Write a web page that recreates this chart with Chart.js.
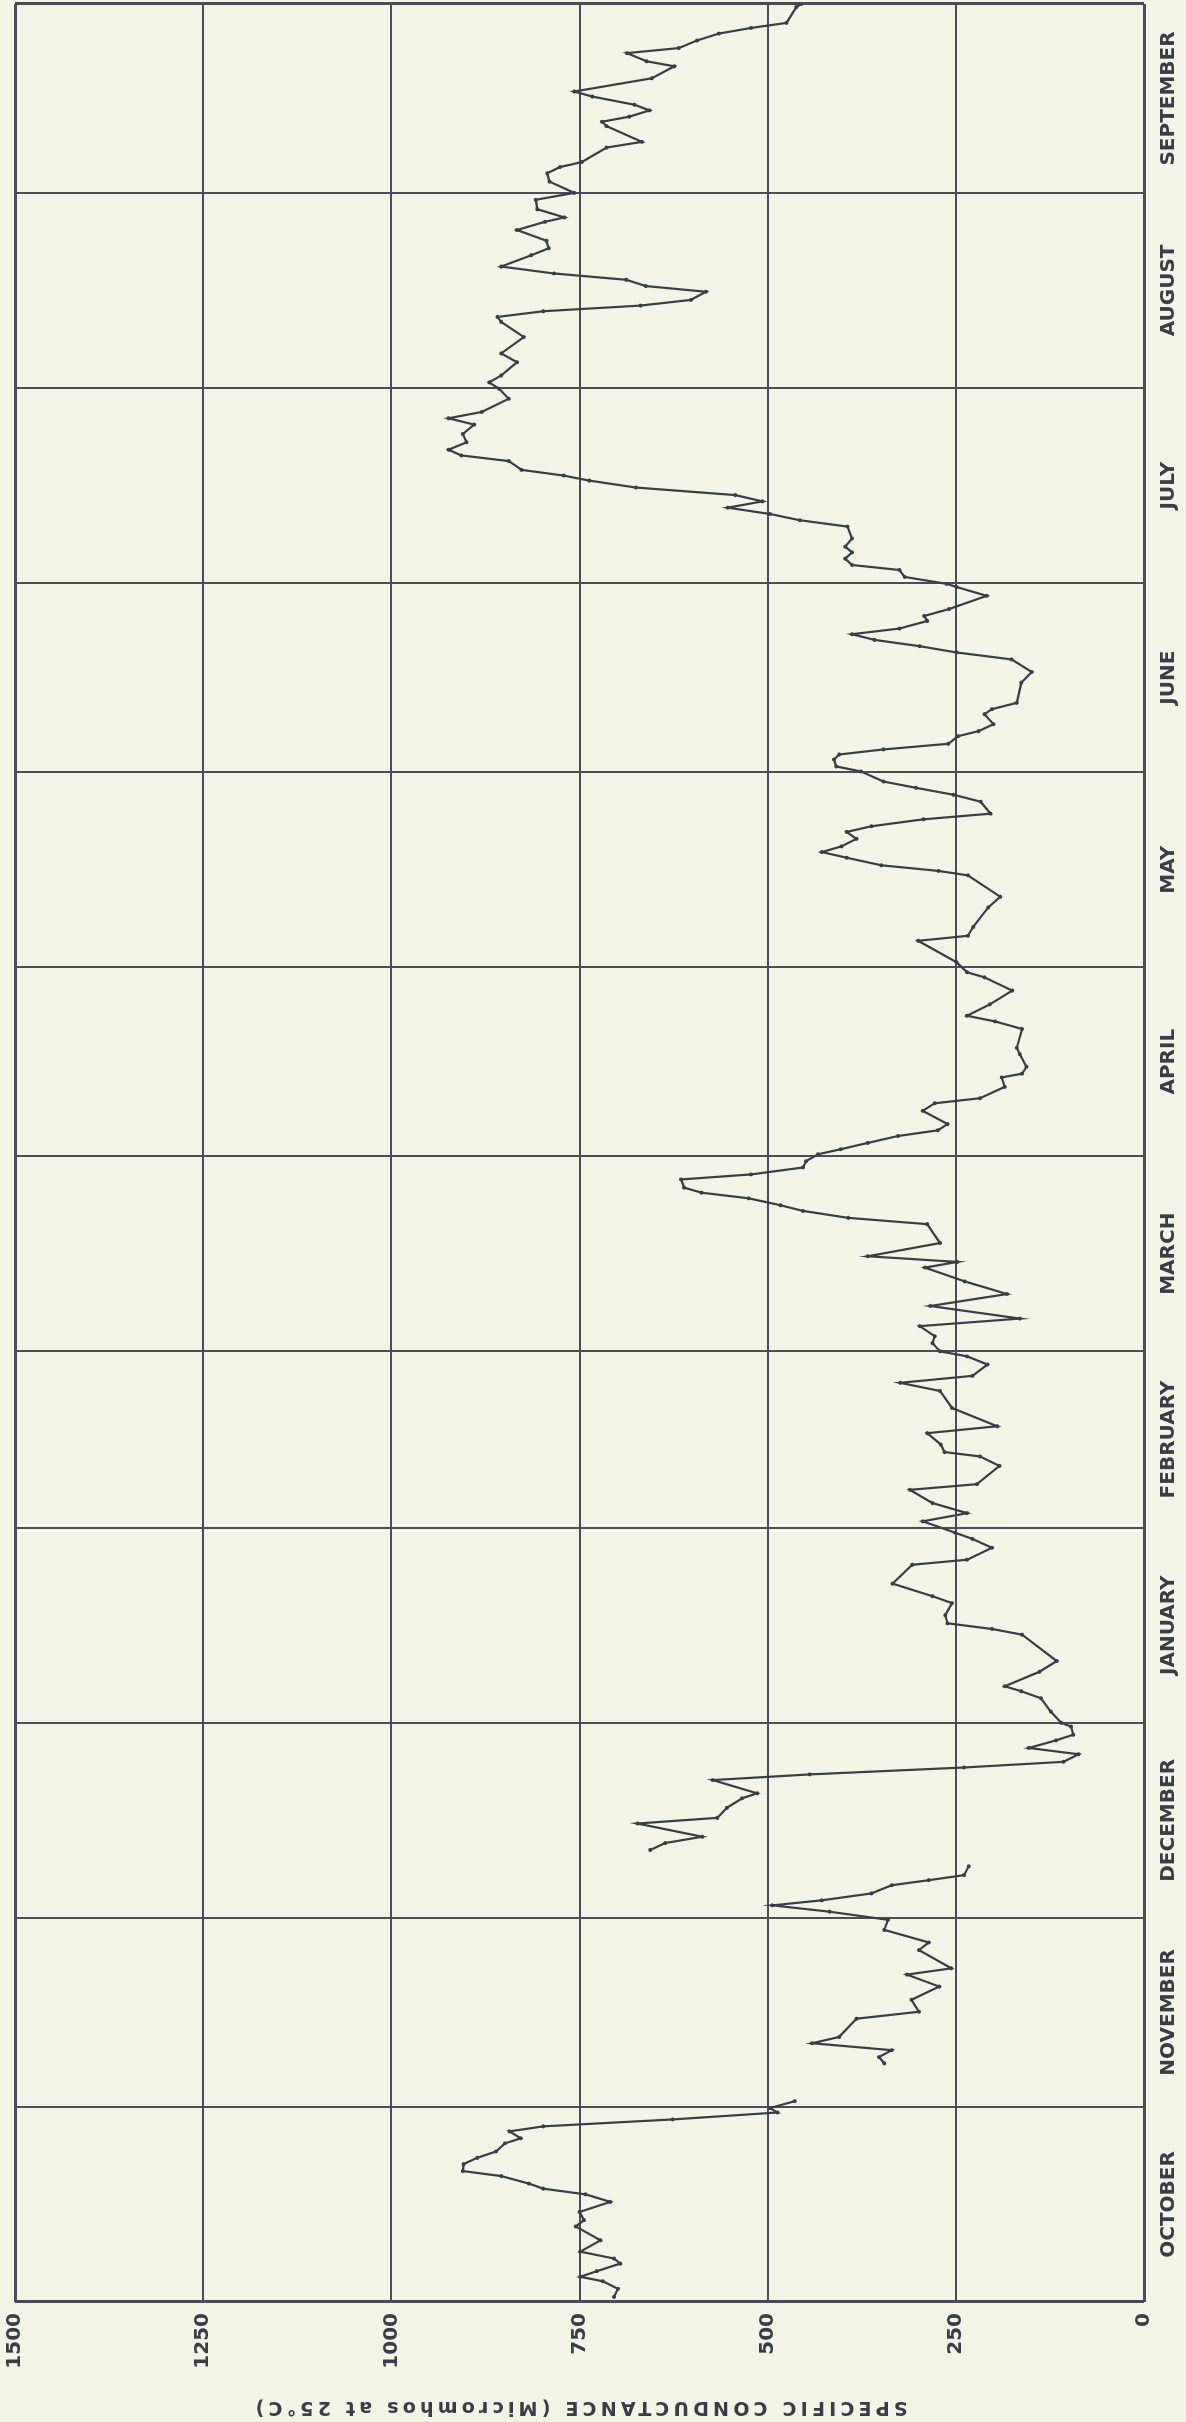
<!DOCTYPE html>
<html>
<head>
<meta charset="utf-8">
<script src="https://cdn.jsdelivr.net/npm/chart.js@4/dist/chart.umd.min.js"></script>
<style>
html, body { margin:0; padding:0; width:1186px; height:2422px; overflow:hidden; background:#f2f4e6; }
#wrap { position:absolute; left:0; top:0; width:2422px; height:1186px; transform-origin:0 0; transform:translate(0,2422px) rotate(-90deg); }
</style>
</head>
<body>
<div id="wrap"><canvas id="c" width="2422" height="1186"></canvas></div>
<script>
// Water-year day (0 = October 1) and specific conductance (micromhos at 25 °C); null = gap in record
const days = [
0.8,2.1,3.3,4.0,4.9,6.1,6.9,8.0,9.8,12.0,13.0,14.3,15.9,17.1,18.0,18.8,20.0,20.8,21.9,22.9,23.9,25.2,26.0,27.1,27.9,29.0,30.1,30.8,31.9,
34.0,
37.9,38.9,40.0,41.1,42.1,45.0,46.1,48.0,50.1,52.0,53.0,55.9,57.1,59.1,60.7,62.0,63.0,63.8,64.9,66.2,67.0,67.8,69.2,
70.5,
71.8,72.9,73.9,76.0,76.9,78.5,80.0,80.8,82.9,83.8,84.9,85.8,87.0,88.0,89.2,90.1,91.4,92.0,93.8,95.9,97.0,97.8,
100.1,101.8,106.0,106.9,107.8,109.1,111.0,112.1,114.1,117.1,117.9,119.8,121.2,122.2,124.0,125.3,126.9,129.0,129.9,132.8,134.3,135.0,136.2,
138.0,139.1,142.0,144.7,146.0,147.1,148.9,150.2,151.0,152.3,153.4,155.0,156.2,158.2,160.1,162.1,164.3,165.2,166.1,168.2,171.2,172.2,173.3,174.2,
175.3,176.2,177.0,178.3,179.1,180.2,181.2,182.3,183.1,184.1,185.2,186.1,187.1,189.2,190.4,191.2,193.0,194.5,195.1,196.2,198.2,199.2,202.2,203.4,
204.3,206.1,208.3,210.4,211.2,212.8,216.2,217.0,218.4,221.5,223.2,226.6,227.3,228.2,229.4,230.3,231.2,232.4,233.5,234.4,235.5,236.4,238.3,239.4,
240.5,241.5,243.1,243.9,245.0,245.8,246.6,247.5,248.7,249.5,250.6,252.2,253.0,254.0,257.2,258.9,260.9,262.0,263.0,264.0,264.9,265.8,267.0,267.8,
268.9,271.0,272.4,272.9,274.0,275.1,275.9,276.9,277.9,278.8,280.1,282.0,283.0,284.0,285.0,286.0,287.0,288.2,289.3,290.1,291.0,292.4,293.3,294.2,
295.4,296.7,298.2,299.2,300.2,302.3,303.9,304.9,306.0,308.1,309.5,312.1,314.5,315.3,316.2,317.1,318.0,319.3,320.2,321.2,322.2,323.3,325.1,326.2,
327.4,329.1,330.4,331.1,332.4,333.9,335.0,336.8,338.1,339.1,339.9,342.2,343.1,345.6,346.3,347.1,348.1,349.0,350.3,351.1,353.2,355.1,355.9,357.2,
358.0,359.2,360.3,361.2,362.0,364.5,365.0
];
const conductance = [
704,699,719,749,727,696,704,749,722,755,744,750,709,742,798,817,854,905,904,886,861,849,828,843,798,626,487,497,464,
null,
345,352,335,441,405,382,299,309,272,315,256,299,286,345,340,418,494,428,362,335,286,239,233,
null,
656,636,587,673,567,554,534,514,573,444,239,107,87,153,117,94,97,110,124,137,163,185,
139,116,162,202,261,264,255,281,334,308,235,202,228,251,294,235,281,311,222,192,218,265,270,
288,195,255,271,324,228,208,235,271,281,278,298,165,284,182,238,291,248,367,271,288,393,453,483,
525,588,611,615,522,453,449,433,403,367,327,274,261,294,278,218,185,189,162,156,165,169,162,198,
235,205,175,212,235,249,300,234,227,207,191,234,273,349,395,428,402,382,395,362,293,204,217,253,
303,346,376,409,412,405,346,260,247,220,200,212,202,169,163,149,176,249,298,358,388,325,288,292,
259,209,249,262,318,325,388,397,388,397,388,394,457,497,553,507,543,675,737,771,827,844,907,924,
900,905,890,924,880,844,857,870,854,833,854,824,854,859,798,669,602,582,662,688,784,854,814,791,
794,833,796,770,806,808,757,790,793,776,747,714,667,714,720,684,657,677,733,757,654,624,661,687,
618,594,565,522,475,462,455
];
const monthStarts = [0,31,61,92,123,151,182,212,243,273,304,335,365];
const monthLabels = ['OCTOBER','NOVEMBER','DECEMBER','JANUARY','FEBRUARY','MARCH','APRIL','MAY','JUNE','JULY','AUGUST','SEPTEMBER'];
const valueTicks = [0,250,500,750,1000,1250,1500];
const valueTickLabels = ['0','250','500','750','1000','1250','1500'];
const axisTitle = 'SPECIFIC CONDUCTANCE (Micromhos at 25\u00B0C)';

const INK = '#3a3d47';
const GRID = '#4a4d57';
const PAPER = '#f2f4e6';
const monthMids = monthStarts.slice(0,-1).map((d,i)=>(d+monthStarts[i+1])/2);

const points = days.map((d,i)=>({x:d, y:conductance[i]}));

const paperPlugin = {
  id:'paper',
  afterLayout(chart){
    const y = chart.scales.y;
    if (y && !y._spacedTitle) {
      const orig = y.drawTitle;
      y.drawTitle = function(){
        const c = this.ctx, prev = c.letterSpacing;
        c.letterSpacing = '4.2px';
        orig.call(this);
        c.letterSpacing = prev || '0px';
      };
      y._spacedTitle = true;
    }
  },
  beforeDraw(chart){
    const c = chart.ctx;
    c.save();
    c.fillStyle = PAPER;
    c.fillRect(0,0,chart.width,chart.height);
    c.restore();
  }
};

const noPad = s => { s.paddingTop = 0; s.paddingBottom = 0; s.paddingLeft = 0; s.paddingRight = 0; };

new Chart(document.getElementById('c'), {
  type:'line',
  data:{ datasets:[{
    data:points, xAxisID:'x', yAxisID:'y',
    borderColor:INK, borderWidth:2.2, tension:0, spanGaps:false,
    pointRadius:2, pointBackgroundColor:INK, pointBorderWidth:0
  }]},
  options:{
    responsive:false, animation:false, devicePixelRatio:1,
    layout:{ padding:{ top:15, right:4, left:0, bottom:0 } },
    plugins:{ legend:{display:false}, tooltip:{enabled:false} },
    scales:{
      x:{
        type:'linear', min:0, max:365, position:'bottom',
        afterBuildTicks:s=>{ s.ticks = monthStarts.map(v=>({value:v})); },
        ticks:{ display:false },
        grid:{ color:GRID, lineWidth:c=> (c.index===0||c.index===monthStarts.length-1)?3:2, drawTicks:false },
        border:{ display:false },
        afterFit:s=>{ s.height = 0; noPad(s); }
      },
      x2:{
        type:'linear', min:0, max:365, position:'bottom',
        afterBuildTicks:s=>{ s.ticks = monthMids.map(v=>({value:v})); },
        ticks:{ autoSkip:false, maxRotation:0, minRotation:0, padding:13, color:INK,
          font:{ family:'DejaVu Sans', size:20, weight:'bold' }, callback:(v,i)=>monthLabels[i] },
        grid:{ display:false, drawTicks:false },
        border:{ display:false },
        afterFit:s=>{ s.height = 42; noPad(s); }
      },
      y:{
        type:'linear', min:0, max:1500,
        afterBuildTicks:s=>{ s.ticks = valueTicks.map(v=>({value:v})); },
        ticks:{ padding:11, color:INK, font:{ family:'DejaVu Sans', size:20, weight:'bold' }, callback:(v,i)=>valueTickLabels[i] },
        grid:{ color:GRID, lineWidth:c=> (c.index===0||c.index===valueTicks.length-1)?3:2, drawTicks:false },
        border:{ display:false },
        title:{ display:true, text:axisTitle, color:INK, font:{ family:'DejaVu Sans', size:19, weight:'bold' }, padding:{top:4,bottom:0} },
        afterFit:s=>{ s.width = 120; noPad(s); }
      }
    }
  },
  plugins:[paperPlugin]
});
</script>
</body>
</html>
